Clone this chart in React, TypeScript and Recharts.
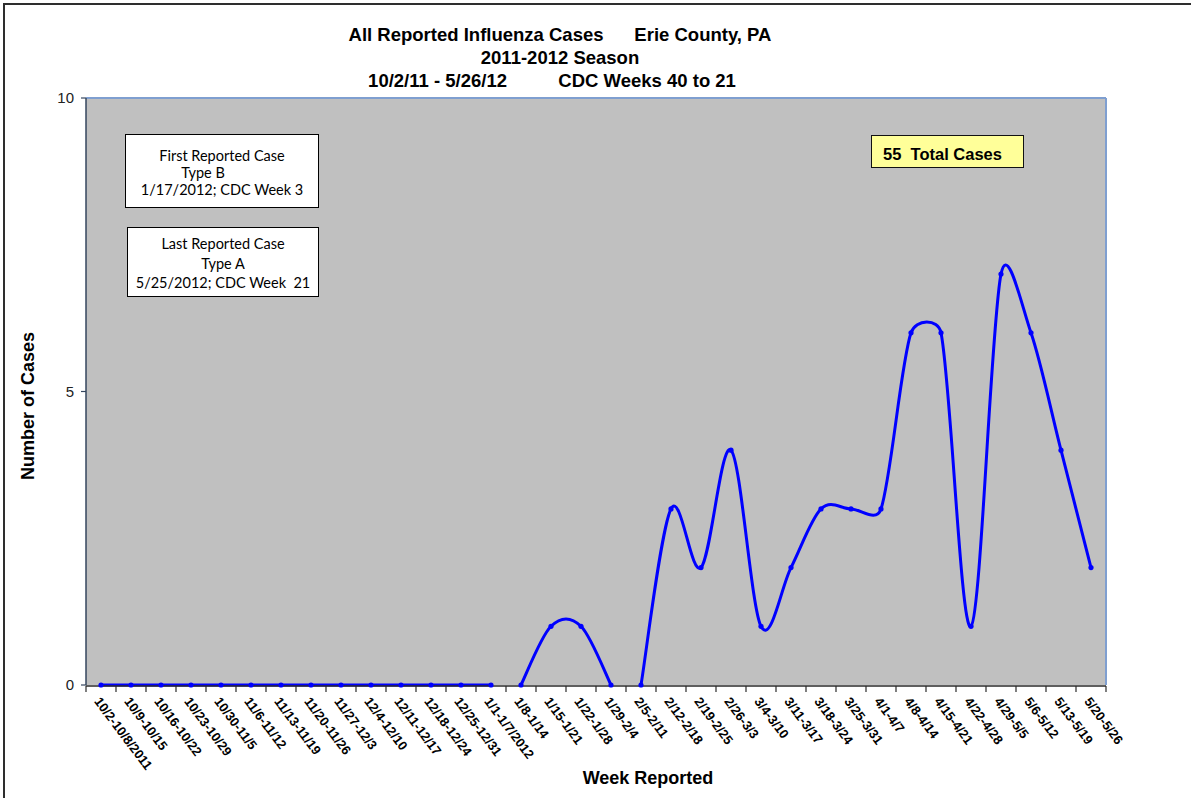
import React from 'react';
import { LineChart, Line, XAxis, YAxis, CartesianGrid, ReferenceLine } from 'recharts';

const weeks = [
  '10/2-10/8/2011', '10/9-10/15', '10/16-10/22', '10/23-10/29', '10/30-11/5', '11/6-11/12',
  '11/13-11/19', '11/20-11/26', '11/27-12/3', '12/4-12/10', '12/11-12/17', '12/18-12/24',
  '12/25-12/31', '1/1-1/7/2012', '1/8-1/14', '1/15-1/21', '1/22-1/28', '1/29-2/4',
  '2/5-2/11', '2/12-2/18', '2/19-2/25', '2/26-3/3', '3/4-3/10', '3/11-3/17', '3/18-3/24',
  '3/25-3/31', '4/1-4/7', '4/8-4/14', '4/15-4/21', '4/22-4/28', '4/29-5/5', '5/6-5/12',
  '5/13-5/19', '5/20-5/26',
];
const fallCases = [0, 0, 0, 0, 0, 0, 0, 0, 0, 0, 0, 0, 0, 0];
const januaryCases = [0, 1, 1, 0];
const springCases = [0, 3, 2, 4, 1, 2, 3, 3, 3, 6, 6, 1, 7, 6, 4, 2];
const yTicks = [0, 5, 10];
const boundaryTicks = weeks.map((_, i) => i).concat([weeks.length]);

const janStart = fallCases.length;
const springStart = janStart + januaryCases.length;

const data = weeks.map((week, i) => ({
  week,
  idx: i + 0.5,
  fall: i < janStart ? fallCases[i] : null,
  jan: i >= janStart && i < springStart ? januaryCases[i - janStart] : null,
  spring: i >= springStart ? springCases[i - springStart] : null,
}));

// Excel-like smoothed line: Bezier with 1/6 tangents, capped at half the segment length
const excelSmooth = (context: any) => {
  let pts: number[][] = [];
  const dist = (a: number[], b: number[]) => Math.hypot(a[0] - b[0], a[1] - b[1]);
  return {
    areaStart() {},
    areaEnd() {},
    lineStart() {
      pts = [];
    },
    point(x: number, y: number) {
      pts.push([+x, +y]);
    },
    lineEnd() {
      const n = pts.length;
      if (!n) return;
      context.moveTo(pts[0][0], pts[0][1]);
      if (n === 1) {
        context.lineTo(pts[0][0], pts[0][1]);
        return;
      }
      for (let i = 0; i < n - 1; i++) {
        const p0 = pts[i === 0 ? 0 : i - 1];
        const p1 = pts[i];
        const p2 = pts[i + 1];
        const p3 = pts[i + 2 < n ? i + 2 : n - 1];
        const d12 = dist(p1, p2);
        const d02 = dist(p0, p2);
        const d13 = dist(p1, p3);
        let f1 = 1 / 6;
        let f2 = 1 / 6;
        if (d02 / 6 >= d12 / 2 && d02 > 0) f1 = d12 / d02 / 2;
        if (d13 / 6 >= d12 / 2 && d13 > 0) f2 = d12 / d13 / 2;
        context.bezierCurveTo(
          p1[0] + (p2[0] - p0[0]) * f1,
          p1[1] + (p2[1] - p0[1]) * f1,
          p2[0] - (p3[0] - p1[0]) * f2,
          p2[1] - (p3[1] - p1[1]) * f2,
          p2[0],
          p2[1]
        );
      }
    },
  };
};

const ARIAL = '"Liberation Sans", Arial, sans-serif';
const CALIBRI = 'Lato, "Open Sans", sans-serif';

const lineColor = '#0000FF';
const borderBlue = '#7F9FD0';
const dotStyle = { r: 2.6, fill: lineColor, stroke: lineColor, strokeWidth: 0 };

const EmptyTick = () => <g />;

const abs = (left: number, top: number, extra: React.CSSProperties = {}): React.CSSProperties => ({
  position: 'absolute',
  left,
  top,
  ...extra,
});

export default function App() {
  return (
    <div style={{ position: 'absolute', left: 0, top: 0, width: 1191, height: 798, background: '#fff', overflow: 'hidden' }}>
      <div style={abs(3, 3, { width: 1188, height: 795, borderLeft: '2px solid #2e2e2e', borderTop: '2px solid #2e2e2e', boxSizing: 'border-box' })} />
      <LineChart width={1191} height={798} data={data} margin={{ top: 98, right: 85, bottom: 111, left: 0 }}>
        <CartesianGrid xAxisId="grid" fill="#C0C0C0" fillOpacity={1} horizontal={false} vertical={false} />
        <ReferenceLine y={10} xAxisId="grid" stroke={borderBlue} strokeWidth={2} ifOverflow="visible" />
        <ReferenceLine x={weeks.length} xAxisId="grid" stroke={borderBlue} strokeWidth={2} ifOverflow="visible" />
        <XAxis
          xAxisId="grid"
          type="number"
          dataKey="idx"
          domain={[0, weeks.length]}
          ticks={boundaryTicks}
          interval={0}
          allowDataOverflow
          tick={EmptyTick}
          height={1}
          tickSize={6}
          axisLine={{ stroke: '#2a2a2a', strokeWidth: 1.5 }}
          tickLine={{ stroke: '#2a2a2a', strokeWidth: 1.2 }}
        />
        <XAxis
          xAxisId="cat"
          dataKey="week"
          type="category"
          interval={0}
          height={1}
          padding={{ left: 15, right: 15 }}
          axisLine={false}
          tickLine={false}
          tickSize={5}
          tickMargin={6}
          tick={{ angle: 53, textAnchor: 'start', fontSize: 13, fontWeight: 'bold', fill: '#000', fontFamily: ARIAL }}
        />
        <YAxis
          domain={[0, 10]}
          ticks={yTicks}
          width={86}
          tickSize={5}
          tickMargin={7}
          axisLine={{ stroke: '#34465E', strokeWidth: 1.5 }}
          tickLine={{ stroke: '#34465E', strokeWidth: 1.2 }}
          tick={{ fontSize: 15, fill: '#222', fontFamily: ARIAL }}
        />
        <Line xAxisId="cat" dataKey="fall" type={excelSmooth as any} stroke={lineColor} strokeWidth={3} dot={dotStyle} activeDot={false} isAnimationActive={false} />
        <Line xAxisId="cat" dataKey="jan" type={excelSmooth as any} stroke={lineColor} strokeWidth={3} dot={dotStyle} activeDot={false} isAnimationActive={false} />
        <Line xAxisId="cat" dataKey="spring" type={excelSmooth as any} stroke={lineColor} strokeWidth={3} dot={dotStyle} activeDot={false} isAnimationActive={false} />
      </LineChart>

      {/* Title */}
      <div style={abs(260, 23, { width: 600, textAlign: 'center', font: `bold 18.5px/23px ${ARIAL}`, whiteSpace: 'pre', color: '#000' })}>
        {'All Reported Influenza Cases      Erie County, PA'}
      </div>
      <div style={abs(260, 46, { width: 600, textAlign: 'center', font: `bold 18.5px/23px ${ARIAL}`, whiteSpace: 'pre', color: '#000' })}>
        {'2011-2012 Season'}
      </div>
      <div style={abs(252, 68.5, { width: 600, textAlign: 'center', font: `bold 18.5px/23px ${ARIAL}`, whiteSpace: 'pre', color: '#000' })}>
        {'10/2/11 - 5/26/12          CDC Weeks 40 to 21'}
      </div>

      {/* Axis titles */}
      <div style={abs(648 - 150, 766, { width: 300, textAlign: 'center', font: `bold 18px/24px ${ARIAL}`, color: '#000' })}>
        Week Reported
      </div>
      <div
        style={abs(28 - 100, 406 - 12, {
          width: 200,
          textAlign: 'center',
          font: `bold 18px/24px ${ARIAL}`,
          color: '#000',
          transform: 'rotate(-90deg)',
          transformOrigin: '100px 12px',
        })}
      >
        Number of Cases
      </div>

      {/* Annotation boxes */}
      <div style={abs(125, 134, { width: 194, height: 74, background: '#fff', border: '1px solid #000', boxSizing: 'border-box', font: `14.5px/17px ${CALIBRI}`, color: '#000', textAlign: 'center', paddingTop: 12 })}>
        <div>First Reported Case</div>
        <div style={{ paddingRight: 38 }}>Type B</div>
        <div>1/17/2012; CDC Week 3</div>
      </div>
      <div style={abs(127, 227, { width: 192, height: 70, background: '#fff', border: '1px solid #000', boxSizing: 'border-box', font: `14.5px/19.5px ${CALIBRI}`, color: '#000', textAlign: 'center', paddingTop: 6, whiteSpace: 'pre' })}>
        <div>Last Reported Case</div>
        <div>Type A</div>
        <div>{'5/25/2012; CDC Week  21'}</div>
      </div>
      <div style={abs(871, 135, { width: 153, height: 33, background: '#FFFF99', border: '1.5px solid #111', boxSizing: 'border-box', font: `bold 16.5px/30px ${ARIAL}`, color: '#000', paddingLeft: 11, paddingTop: 3, whiteSpace: 'pre' })}>
        {'55  Total Cases'}
      </div>
    </div>
  );
}
